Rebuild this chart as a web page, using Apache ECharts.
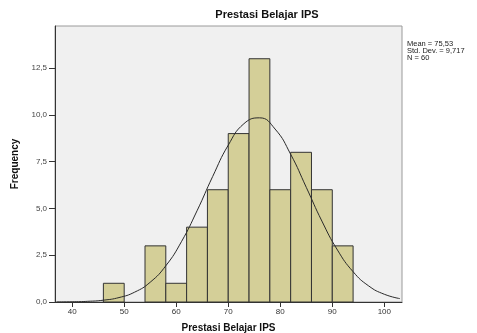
<!DOCTYPE html>
<html>
<head>
<meta charset="utf-8">
<script src="https://cdn.jsdelivr.net/npm/echarts@6/dist/echarts.min.js"></script>
<style>
  html, body { margin: 0; padding: 0; background: #fff; }
  #chart { width: 477px; height: 333px; }
</style>
</head>
<body>
<div id="chart"></div>
<script>
// histogram bins (width 4) and counts
const binEdges = [46, 50, 54, 58, 62, 66, 70, 74, 78, 82, 86, 90, 94];
const counts = [1, 0, 3, 1, 4, 6, 9, 13, 6, 8, 6, 3];

// normal curve
const curveX = [37, 40, 43, 46, 49, 52, 55, 58, 61, 64, 67, 70, 73, 76, 79, 82, 85, 88, 91, 94, 97, 100, 103];
const curveY = [0.004, 0.012, 0.036, 0.097, 0.237, 0.525, 1.057, 1.936, 3.221, 4.873, 6.702, 8.38,
  9.525, 9.842, 9.244, 7.894, 6.128, 4.325, 2.775, 1.618, 0.858, 0.414, 0.181];

const xTicks = [40, 50, 60, 70, 80, 90, 100];
const yTicks = [0, 2.5, 5, 7.5, 10, 12.5];

const statsLines = ["Mean = 75,53", "Std. Dev. = 9,717", "N = 60"];

const FONT = "Liberation Sans, Arial, sans-serif";

const bars = counts.map((c, i) => [binEdges[i], binEdges[i + 1], c]).filter(d => d[2] > 0);
const curve = curveX.map((x, i) => [x, curveY[i]]);

const chart = echarts.init(document.getElementById("chart"));

const option = {
  animation: false,
  backgroundColor: "#fff",
  textStyle: { fontFamily: FONT },
  grid: {
    left: 55, right: 75, top: 26, bottom: 31,
    outerBoundsMode: "none",
    containLabel: false,
    show: true,
    backgroundColor: "#f0f0f0",
    borderColor: "#9a9a9a",
    borderWidth: 1,
  },
  graphic: [
    {
      type: "text", x: 267, y: 15,
      style: {
        text: "Prestasi Belajar IPS", fontFamily: FONT, fontSize: 11, fontWeight: "bold",
        fill: "#111", align: "center", verticalAlign: "middle",
      },
    },
    {
      type: "text", x: 407, y: 40,
      style: {
        text: statsLines.join("\n"), fontFamily: FONT, fontSize: 7.5, lineHeight: 7,
        fill: "#222", align: "left", verticalAlign: "top",
      },
    },
  ],
  xAxis: {
    type: "value",
    min: 36.7,
    max: 103.4,
    name: "Prestasi Belajar IPS",
    nameLocation: "middle",
    nameGap: 21,
    nameTextStyle: { fontFamily: FONT, fontSize: 10, fontWeight: "bold", color: "#111" },
    splitLine: { show: false },
    axisLine: { lineStyle: { color: "#333", width: 1 } },
    axisTick: { customValues: xTicks, length: 5, lineStyle: { color: "#333" } },
    axisLabel: {
      customValues: xTicks, fontSize: 8, color: "#333", margin: 6, fontFamily: FONT,
    },
  },
  yAxis: {
    type: "value",
    min: 0,
    max: 14.75,
    name: "Frequency",
    nameLocation: "middle",
    nameGap: 33,
    nameTextStyle: { fontFamily: FONT, fontSize: 10, fontWeight: "bold", color: "#111" },
    splitLine: { show: false },
    axisLine: { show: true, lineStyle: { color: "#333", width: 1 } },
    axisTick: { customValues: yTicks, length: 6, lineStyle: { color: "#333" } },
    axisLabel: {
      customValues: yTicks, fontSize: 8, color: "#444", margin: 8, fontFamily: FONT,
      formatter: v => v.toFixed(1).replace(".", ","),
    },
  },
  series: [
    {
      type: "custom",
      data: bars,
      encode: { x: [0, 1], y: 2 },
      renderItem: (params, api) => {
        const p0 = api.coord([api.value(0), api.value(2)]);
        const p1 = api.coord([api.value(1), 0]);
        return {
          type: "rect",
          shape: { x: p0[0], y: p0[1], width: p1[0] - p0[0], height: p1[1] - p0[1] },
          style: { fill: "#d4cf98", stroke: "#333", lineWidth: 1 },
        };
      },
      z: 2,
    },
    {
      type: "line",
      data: curve,
      smooth: true,
      showSymbol: false,
      lineStyle: { color: "#2a2a2a", width: 1 },
      clip: true,
      z: 3,
    },
  ],
};

chart.setOption(option);
</script>
</body>
</html>
